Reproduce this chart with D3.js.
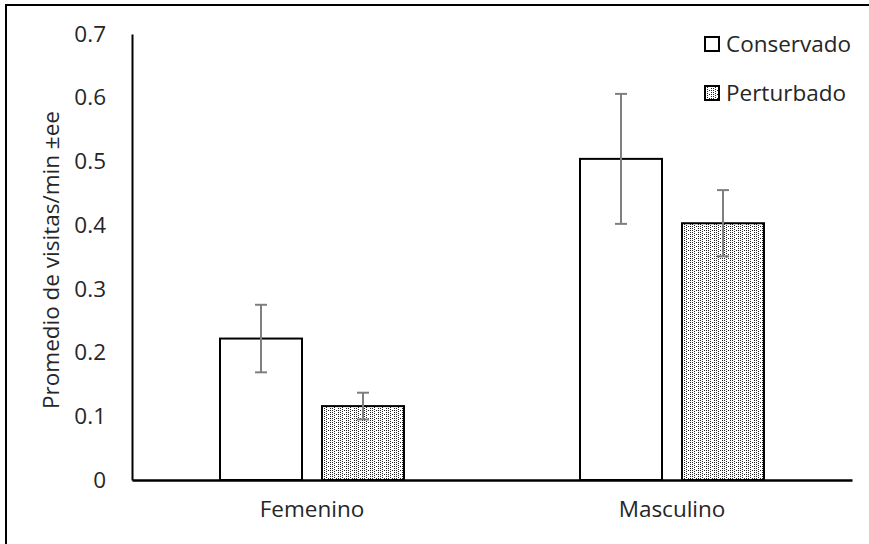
<!DOCTYPE html>
<html>
<head>
<meta charset="utf-8">
<script src="https://cdn.jsdelivr.net/npm/d3@7"></script>
<style>
  body { margin: 0; background: #fff; }
  text { font-family: "Open Sans", sans-serif; fill: #262626; }
</style>
</head>
<body>
<div id="chart"></div>
<script>
// data
var categories = ["Femenino", "Masculino"];
var seriesNames = ["Conservado", "Perturbado"];
var conservado = [0.222, 0.504];
var perturbado = [0.116, 0.403];
var conservadoErr = [0.053, 0.102];
var perturbadoErr = [0.021, 0.052];
var yTicks = [0, 0.1, 0.2, 0.3, 0.4, 0.5, 0.6, 0.7];

var W = 869, H = 544;
var margin = { top: 34, right: 17, bottom: 64, left: 132 },
  width = W - margin.left - margin.right,
  height = H - margin.top - margin.bottom;
var fs = 22.5;

var svg = d3.select("#chart").append("svg")
  .attr("width", W)
  .attr("height", H);

// dotted fill like the Excel pattern (columns of dots)
var defs = svg.append("defs");
var pat = defs.append("pattern")
  .attr("id", "dots")
  .attr("patternUnits", "userSpaceOnUse")
  .attr("width", 8).attr("height", 4);
pat.append("rect").attr("width", 8).attr("height", 4).attr("fill", "#fff");
[[0, 0], [0, 2], [2, 1], [2, 3], [4, 0], [6, 2], [6, 0]].forEach(function (p) {
  pat.append("rect").attr("x", p[0]).attr("y", p[1])
    .attr("width", 1).attr("height", 1).attr("fill", "#222");
});

// outer frame (runs off the right and bottom)
svg.append("rect")
  .attr("x", 6).attr("y", 5)
  .attr("width", W + 10).attr("height", H + 10)
  .attr("fill", "none").attr("stroke", "#000").attr("stroke-width", 2);

var g = svg.append("g")
  .attr("transform", "translate(" + margin.left + "," + margin.top + ")");

var x0 = d3.scaleBand().domain(categories).range([0, width]).padding(0);
var x1 = d3.scaleBand().domain(seriesNames).range([0, 184]).paddingInner(0.196);
var y = d3.scaleLinear().domain([0, 0.7]).range([height, 0]);

var rows = categories.map(function (c, i) {
  return {
    cat: c,
    vals: [
      { s: "Conservado", v: conservado[i], e: conservadoErr[i] },
      { s: "Perturbado", v: perturbado[i], e: perturbadoErr[i] }
    ]
  };
});

var groups = g.selectAll(".grp")
  .data(rows)
  .enter().append("g")
  .attr("class", "grp")
  .attr("transform", function (d) {
    return "translate(" + (x0(d.cat) + (x0.bandwidth() - 184) / 2) + ",0)";
  });

groups.selectAll("rect")
  .data(function (d) { return d.vals; })
  .enter().append("rect")
  .attr("x", function (d) { return x1(d.s); })
  .attr("y", function (d) { return y(d.v); })
  .attr("width", x1.bandwidth())
  .attr("height", function (d) { return height - y(d.v); })
  .attr("fill", function (d) { return d.s == "Conservado" ? "#fff" : "url(#dots)"; })
  .attr("stroke", "#000")
  .attr("stroke-width", 2);

// error bars
var eb = groups.selectAll(".err")
  .data(function (d) { return d.vals; })
  .enter().append("g")
  .attr("class", "err")
  .attr("stroke", "#7f7f7f")
  .attr("stroke-width", 2);
eb.append("line")
  .attr("x1", function (d) { return x1(d.s) + x1.bandwidth() / 2; })
  .attr("x2", function (d) { return x1(d.s) + x1.bandwidth() / 2; })
  .attr("y1", function (d) { return y(d.v + d.e); })
  .attr("y2", function (d) { return y(d.v - d.e); });
[1, -1].forEach(function (sgn) {
  eb.append("line")
    .attr("x1", function (d) { return x1(d.s) + x1.bandwidth() / 2 - 6; })
    .attr("x2", function (d) { return x1(d.s) + x1.bandwidth() / 2 + 6; })
    .attr("y1", function (d) { return y(d.v + sgn * d.e); })
    .attr("y2", function (d) { return y(d.v + sgn * d.e); });
});

// y axis
var yAxis = g.append("g")
  .call(d3.axisLeft(y).tickValues(yTicks).tickSize(0).tickPadding(26)
    .tickFormat(function (d) { return d === 0 ? "0" : d3.format(".1f")(d); }));
yAxis.select(".domain").attr("stroke", "#000").attr("stroke-width", 2);
yAxis.selectAll(".tick text").attr("font-size", fs).attr("font-family", "Open Sans").attr("fill", "#262626");

// x axis
var xAxis = g.append("g")
  .attr("transform", "translate(0," + height + ")")
  .call(d3.axisBottom(x0).tickSize(0).tickPadding(21));
xAxis.select(".domain").attr("stroke", "#000").attr("stroke-width", 2.5);
xAxis.selectAll(".tick text").attr("font-size", fs).attr("font-family", "Open Sans").attr("fill", "#262626");

// y label
svg.append("text")
  .attr("transform", "translate(59," + (margin.top + height / 2 + 3) + ") rotate(-90)")
  .attr("text-anchor", "middle")
  .attr("font-size", fs)
  .text("Promedio de visitas/min \u00b1ee");

// legend
var legend = svg.append("g").attr("transform", "translate(705,37)");
var li = legend.selectAll(".li")
  .data(seriesNames)
  .enter().append("g")
  .attr("class", "li")
  .attr("transform", function (d, i) { return "translate(0," + (i * 49) + ")"; });
li.append("rect")
  .attr("width", 14).attr("height", 14)
  .attr("fill", function (d) { return d == "Conservado" ? "#fff" : "url(#dots)"; })
  .attr("stroke", "#000").attr("stroke-width", 2);
li.append("text")
  .attr("x", 21).attr("y", 15)
  .attr("font-size", fs)
  .text(function (d) { return d; });
</script>
</body>
</html>
